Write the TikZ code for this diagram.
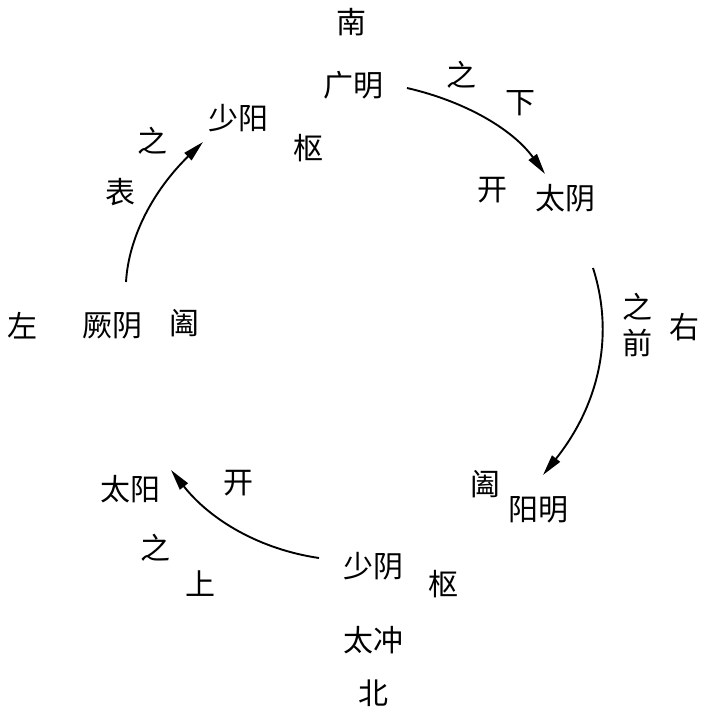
\documentclass[tikz,border=0pt]{standalone}
\usepackage{fontspec}
\setmainfont{Noto Sans CJK SC}
\usetikzlibrary{arrows.meta}
\begin{document}
\begin{tikzpicture}[x=1pt,y=-1pt,
  lab/.style={inner sep=0pt,font=\fontsize{30}{32}\selectfont},
  arr/.style={line width=1.9pt,-{Triangle[length=21pt,width=10pt]}}]
\useasboundingbox (0,0) rectangle (710,727);
% texts
\node[lab] (nan) at (351,22) {南};
\node[lab] (guangming) at (353,85) {广明};
\node[lab] (zhi1) at (461,75) {之};
\node[lab] (xia) at (520,103) {下};
\node[lab] (shaoyang) at (238,118) {少阳};
\node[lab] (shu1) at (308,148) {枢};
\node[lab] (zhi4) at (152,141) {之};
\node[lab] (biao) at (120,192) {表};
\node[lab] (kai1) at (492,190) {开};
\node[lab] (taiyin) at (565,198) {太阴};
\node[lab] (zuo) at (22,326) {左};
\node[lab] (jueyin) at (112,326) {厥阴};
\node[lab] (he1) at (184,323) {阖};
\node[lab] (zhi2) at (637,307) {之};
\node[lab] (qian) at (637,343) {前};
\node[lab] (you) at (684,327) {右};
\node[lab] (he2) at (485,484) {阖};
\node[lab] (yangming) at (538,510) {阳明};
\node[lab] (taiyang) at (130,489) {太阳};
\node[lab] (kai2) at (238,483) {开};
\node[lab] (zhi3) at (155,548) {之};
\node[lab] (shang) at (200,584) {上};
\node[lab] (shaoyin) at (373,566) {少阴};
\node[lab] (shu2) at (443,584) {枢};
\node[lab] (taichong) at (373,640) {太冲};
\node[lab] (bei) at (373,693) {北};
% arrow end points
\coordinate (a1s) at (407,88);
\coordinate (a1e) at (545,174);
\coordinate (a2s) at (593,268);
\coordinate (a2e) at (543,475);
\coordinate (a3s) at (319,558);
\coordinate (a3e) at (171,470);
\coordinate (a4s) at (126,282);
\coordinate (a4e) at (203,142);
\draw[arr] (a1s) .. controls (467.7,102) and (513.7,130.7) .. (a1e);
\draw[arr] (a2s) .. controls (615,336.7) and (598.3,405.7) .. (a2e);
\draw[arr] (a3s) .. controls (259.7,549.3) and (210.3,520) .. (a3e);
\draw[arr] (a4s) .. controls (128.7,236) and (154.3,189.3) .. (a4e);
\end{tikzpicture}
\end{document}
